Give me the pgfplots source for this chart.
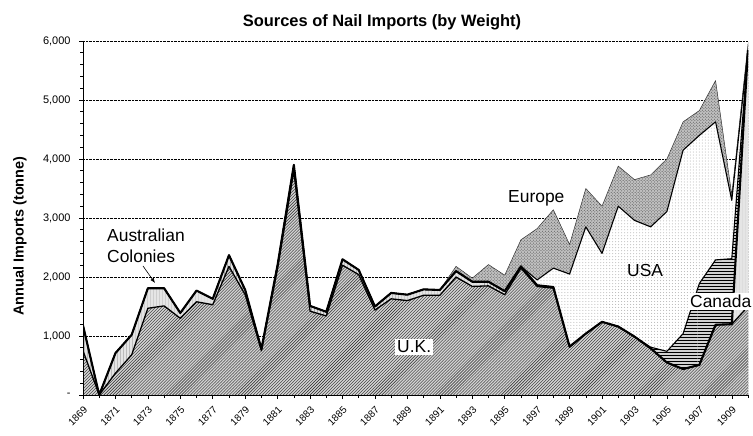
\documentclass[border=0pt]{standalone}
\usepackage{fontspec}
\setmainfont{Liberation Sans}
\usepackage{pgfplots}
\pgfplotsset{compat=1.18}
\usepackage{pgfplotstable}
\usetikzlibrary{patterns,arrows.meta}

% cumulative tops of the stacked layers (tonne)
% uk = U.K.; ua = +Australian Colonies; uac = +Canada; uacu = +USA; tot = +Europe
\pgfplotstableread{
year uk ua uac uacu tot
1869 750 1180 1180 1180 1180
1870 0 0 0 0 0
1871 370 710 710 710 710
1872 680 1020 1020 1020 1020
1873 1470 1810 1810 1810 1810
1874 1510 1810 1810 1810 1810
1875 1300 1390 1390 1390 1390
1876 1580 1770 1770 1770 1770
1877 1530 1630 1630 1630 1630
1878 2180 2370 2370 2370 2370
1879 1700 1780 1780 1780 1780
1880 750 780 780 780 780
1881 2150 2210 2210 2210 2210
1882 3800 3900 3900 3900 3900
1883 1420 1510 1510 1510 1510
1884 1340 1410 1410 1410 1410
1885 2200 2300 2300 2300 2300
1886 2040 2120 2120 2120 2120
1887 1440 1500 1500 1500 1500
1888 1630 1730 1730 1730 1730
1889 1600 1700 1700 1700 1700
1890 1690 1790 1790 1790 1790
1891 1690 1780 1780 1780 1780
1892 2000 2100 2100 2100 2180
1893 1840 1920 1920 1920 1980
1894 1850 1920 1920 1920 2210
1895 1700 1760 1760 1760 2030
1896 2150 2180 2180 2180 2630
1897 1840 1860 1860 1950 2820
1898 1810 1830 1830 2150 3140
1899 810 820 820 2050 2550
1900 1040 1040 1040 2850 3500
1901 1240 1240 1240 2400 3200
1902 1160 1160 1160 3200 3880
1903 990 990 990 2960 3650
1904 790 790 810 2850 3730
1905 550 550 740 3110 4000
1906 440 440 1040 4150 4630
1907 510 510 1890 4400 4820
1908 1190 1190 2290 4630 5330
1909 1200 1200 2310 3300 3390
1910 1500 5850 5850 5850 5950
}\datatable

\begin{document}
\begin{tikzpicture}
\begin{axis}[
  at={(83bp,41bp)}, anchor=south west,
  scale only axis, width=665bp, height=354bp,
  xmin=1869, xmax=1910, ymin=0, ymax=6000,
  axis lines=left, axis line style={-, line width=0.9bp},
  xtick={1869,1871,...,1909},
  minor xtick={1870,1872,...,1910},
  xticklabels={1869,1871,1873,1875,1877,1879,1881,1883,1885,1887,1889,1891,1893,1895,1897,1899,1901,1903,1905,1907,1909},
  ytick={0,1000,...,6000},
  minor ytick={200,400,...,5800},
  yticklabels={{-\hspace{5bp}},{1,000},{2,000},{3,000},{4,000},{5,000},{6,000}},
  tick align=outside, major tick length=4bp, minor tick length=3bp,
  tick style={black, line width=0.6bp},
  ymajorgrids, major grid style={black, densely dotted, line width=0.6bp},
  xticklabel style={yshift=-9bp, xshift=3bp, rotate=45, anchor=east, font=\fontsize{10}{12}\selectfont, inner sep=0.5bp},
  yticklabel style={font=\fontsize{11}{13}\selectfont, xshift=-5bp},
  line join=round,
]
% fills, from the top layer down
\addplot[draw=none, fill=gray!50, postaction={pattern=crosshatch dots, pattern color=black!70}] table[x=year,y=tot]{\datatable} \closedcycle;
\addplot[draw=none, fill=white, postaction={pattern=dots, pattern color=gray!60}] table[x=year,y=uacu]{\datatable} \closedcycle;
\addplot[draw=none, fill=gray!35, postaction={pattern=horizontal lines, pattern color=black}] table[x=year,y=uac]{\datatable} \closedcycle;
\addplot[draw=none, fill=gray!20, postaction={pattern=vertical lines, pattern color=gray!70}] table[x=year,y=ua]{\datatable} \closedcycle;
\addplot[draw=none, fill=gray!35, postaction={pattern=north east lines, pattern color=black!85}] table[x=year,y=uk]{\datatable} \closedcycle;
% boundary lines
\addplot[gray!40!black, line width=0.5bp, mark=none] table[x=year,y=tot]{\datatable};
\addplot[black, line width=1.1bp, mark=none] table[x=year,y=uacu]{\datatable};
\addplot[black, line width=1.1bp, mark=none] table[x=year,y=uac]{\datatable};
\addplot[black, line width=2.1bp, mark=none] table[x=year,y=ua]{\datatable};
\addplot[black, line width=1.3bp, mark=none] table[x=year,y=uk]{\datatable};
\draw[black, densely dotted, line width=0.6bp] (rel axis cs:1,0) -- (rel axis cs:1,1);
\draw[black, line width=0.9bp] (rel axis cs:0,1) -- (rel axis cs:0,0) -- (rel axis cs:1,0);
\end{axis}
% title and axis label
\node[font=\bfseries\fontsize{16.5}{19}\selectfont, anchor=base] at (382bp,409bp) {Sources of Nail Imports (by Weight)};
\node[font=\bfseries\fontsize{14.5}{17}\selectfont, rotate=90] at (20bp,200bp) {Annual Imports (tonne)};
% annotations
\begin{scope}[every node/.style={font=\fontsize{17.5}{20}\selectfont, inner sep=2bp, anchor=base west}]
\node at (105bp,194bp) {Australian};
\node at (105bp,173bp) {Colonies};
\node at (506bp,233bp) {Europe};
\node at (625bp,159bp) {USA};
\node[fill=white] at (395bp,83bp) {U.K.};
\node[fill=white] at (688bp,128bp) {Canada};
\end{scope}
\draw[-{Latex[length=5bp,width=4bp]}, line width=0.6bp] (143bp,170bp) -- (155bp,153bp);
\pgfresetboundingbox
\path[use as bounding box] (0,0) rectangle (753bp,436bp);
\end{tikzpicture}
\end{document}
